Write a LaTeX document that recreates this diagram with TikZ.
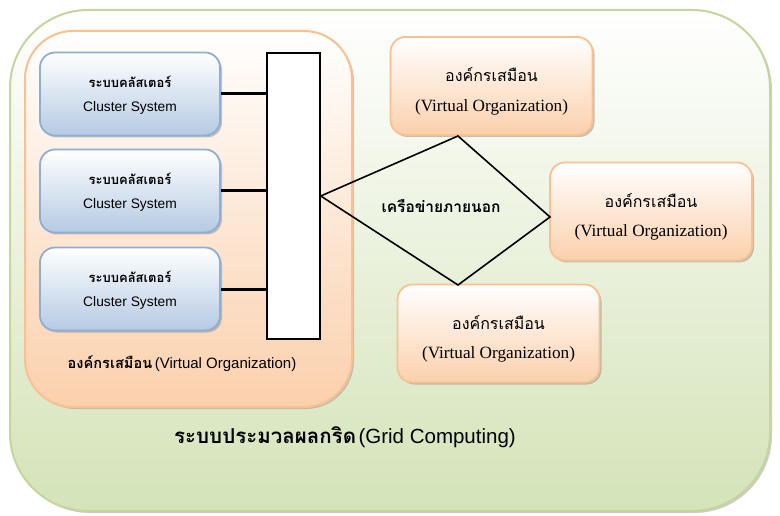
\documentclass[tikz,border=0pt]{standalone}
\usepackage{fontspec}
\setmainfont{Liberation Serif}
\setsansfont{Liberation Sans}
\newfontfamily\thai[Script=Thai]{Loma}
\usetikzlibrary{shadows}
\definecolor{grnB}{HTML}{C3D69B}
\definecolor{grnF}{HTML}{D4E3B8}
\definecolor{orB}{HTML}{FAC090}
\definecolor{orF}{HTML}{FBD0AC}
\definecolor{blB}{HTML}{8EAED6}
\definecolor{blF}{HTML}{B5CAE3}
\tikzset{
  gridbox/.style={draw=grnB, line width=2pt, rounded corners=78pt, top color=white, bottom color=grnF,
    drop shadow={shadow xshift=2pt, shadow yshift=-2pt, fill=black!40}},
  vogroup/.style={draw=orB, line width=2pt, rounded corners=48pt, top color=white, bottom color=orF,
    drop shadow={shadow xshift=2pt, shadow yshift=-2pt, fill=black!40}},
  clbox/.style={draw=blB, line width=1.8pt, rounded corners=15pt, top color=white, bottom color=blF,
    minimum width=180pt, minimum height=83pt, inner sep=0pt,
    drop shadow={shadow xshift=2pt, shadow yshift=-2pt, fill=black!45}},
  vobox/.style={draw=orB, line width=1.8pt, rounded corners=15pt, top color=white, bottom color=orF,
    minimum width=202pt, minimum height=98pt, inner sep=0pt,
    drop shadow={shadow xshift=2pt, shadow yshift=-2pt, fill=black!45}},
  barbox/.style={draw=black, line width=1.5pt, fill=white, minimum width=53pt, minimum height=286pt, inner sep=0pt},
  link/.style={line width=3pt},
  net/.style={line width=1.6pt, line join=miter},
  clth/.style={font=\thai\bfseries\fontsize{13}{15}\selectfont, inner sep=0pt},
  clen/.style={font=\sffamily\fontsize{13.8}{15}\selectfont, inner sep=0pt},
  voth/.style={font=\thai\fontsize{16}{19}\selectfont, inner sep=0pt},
  voen/.style={font=\rmfamily\fontsize{17.2}{19}\selectfont, inner sep=0pt},
}
\begin{document}
\begin{tikzpicture}[x=1pt,y=-1pt]
\useasboundingbox (0,0) rectangle (780,516);
\path[gridbox] (10,10) rectangle (770,511);
\path[vogroup] (25,31) rectangle (352,407);

\node[clbox] (c1) at (130,94) {};
\node[clbox] (c2) at (130,191) {};
\node[clbox] (c3) at (130,289) {};
\foreach \c in {c1,c2,c3}{
  \node[clth] at ([yshift=12pt]\c.center) {ระบบคลัสเตอร์};
  \node[clen] at ([yshift=-14pt]\c.center) {Cluster System};
}

\node[barbox] (bar) at (293.5,196) {};
\foreach \c in {c1,c2,c3}{
  \draw[link] (\c.east) -- (\c.east -| bar.west);
}

\node[vobox] (v1) at (491.5,86) {};
\node[vobox] (v2) at (651,211.5) {};
\node[vobox] (v3) at (498.5,333.5) {};
\foreach \v in {v1,v2,v3}{
  \node[voth] at ([yshift=11pt]\v.center) {องค์กรเสมือน};
  \node[voen] at ([yshift=-21pt]\v.center) {(Virtual Organization)};
}

\coordinate (dl) at (bar.east);
\coordinate (dt) at (458,136);
\coordinate (dr) at (550,217);
\coordinate (db) at (458,285);
\draw[net] (dl) -- (dt) -- (dr) -- (db) -- cycle;
\node[font=\thai\bfseries\fontsize{15.5}{17}\selectfont, inner sep=0pt] (netlbl) at (441,206) {เครือข่ายภายนอก};

\node[inner sep=0pt] (volbl) at (182,364) {{\thai\bfseries\fontsize{14.6}{17}\selectfont องค์กรเสมือน} {\sffamily\fontsize{15}{17}\selectfont (Virtual Organization)}};
\node[inner sep=0pt] (gridlbl) at (345,437) {{\thai\bfseries\fontsize{20.5}{22}\selectfont ระบบประมวลผลกริด} {\sffamily\fontsize{20.5}{22}\selectfont (Grid Computing)}};
\end{tikzpicture}
\end{document}
